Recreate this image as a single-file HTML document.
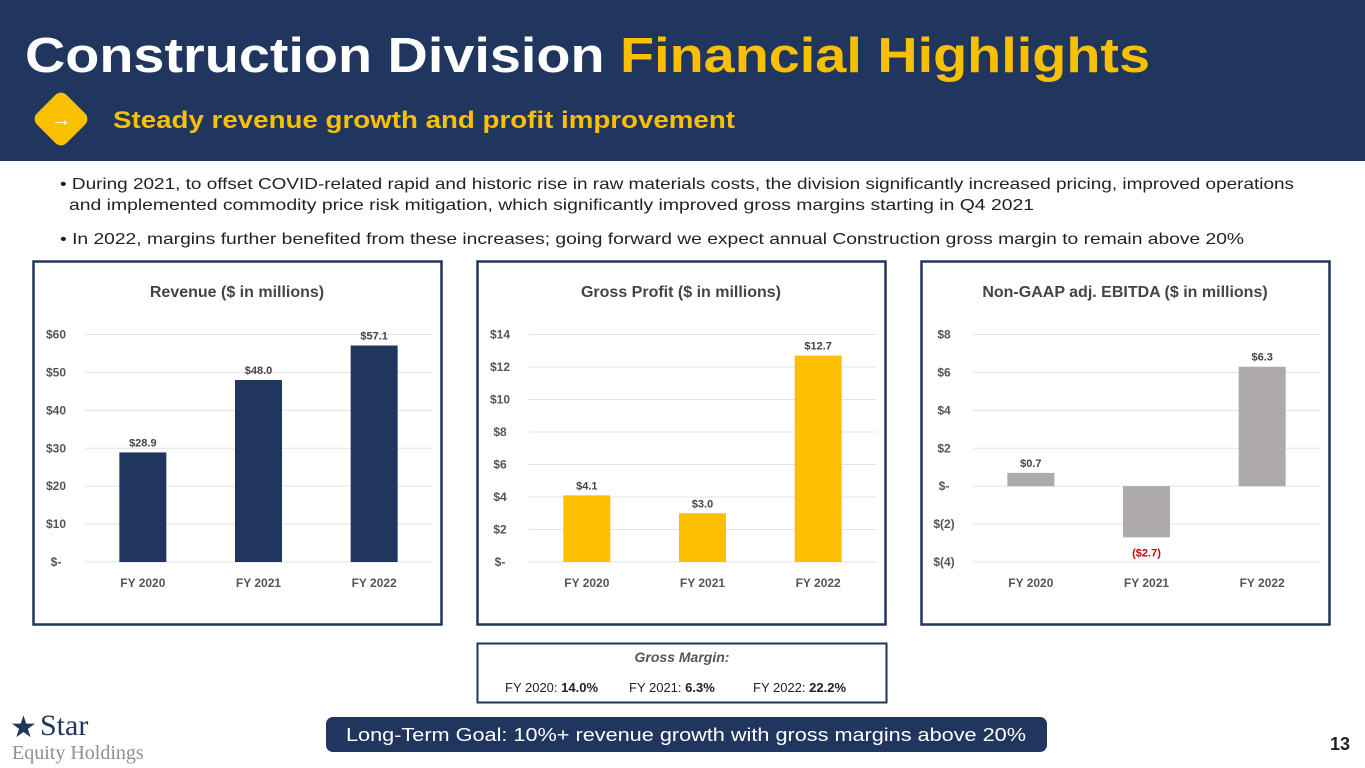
<!DOCTYPE html>
<html><head><meta charset="utf-8"><style>
html,body{margin:0;padding:0;background:#fff;}
svg{display:block;font-family:"Liberation Sans",sans-serif;}
</style></head><body>
<svg id="s" width="1365" height="768" viewBox="0 0 1365 768">
<rect x="0" y="0" width="1365" height="161" fill="#21365f"/>
<text x="25" y="72" font-size="49" font-weight="bold" fill="#fff" textLength="1125" lengthAdjust="spacingAndGlyphs">Construction Division <tspan fill="#f9c000">Financial Highlights</tspan></text>
<g>
<rect x="40" y="98" width="42" height="42" rx="8" fill="#f9c000" transform="rotate(45 61 119)"/>
<text x="61" y="126" font-size="20" fill="#fff" text-anchor="middle">→</text>
</g>
<text x="113" y="128" font-size="24" font-weight="bold" fill="#f9c000" textLength="622" lengthAdjust="spacingAndGlyphs">Steady revenue growth and profit improvement</text>
<g font-size="16" fill="#222">
<text x="60" y="189" textLength="1234" lengthAdjust="spacingAndGlyphs">• During 2021, to offset COVID-related rapid and historic rise in raw materials costs, the division significantly increased pricing, improved operations</text>
<text x="69" y="210" textLength="965" lengthAdjust="spacingAndGlyphs">and implemented commodity price risk mitigation, which significantly improved gross margins starting in Q4 2021</text>
<text x="60" y="244" textLength="1184" lengthAdjust="spacingAndGlyphs">• In 2022, margins further benefited from these increases; going forward we expect annual Construction gross margin to remain above 20%</text>
</g>
<g id="charts"></g>
<g>
<rect x="477.5" y="643.5" width="409" height="59" fill="#fff" stroke="#21365f" stroke-width="2"/>
<text x="682" y="662" font-size="14" font-weight="bold" font-style="italic" fill="#555" text-anchor="middle">Gross Margin:</text>
<text x="505" y="692" font-size="13" fill="#222">FY 2020: <tspan font-weight="bold">14.0%</tspan></text>
<text x="629" y="692" font-size="13" fill="#222">FY 2021: <tspan font-weight="bold">6.3%</tspan></text>
<text x="753" y="692" font-size="13" fill="#222">FY 2022: <tspan font-weight="bold">22.2%</tspan></text>
</g>
<g>
<rect x="326" y="717" width="721" height="35" rx="7" fill="#21365f"/>
<text x="686" y="741" font-size="18" fill="#fff" text-anchor="middle" textLength="680" lengthAdjust="spacingAndGlyphs">Long-Term Goal: 10%+ revenue growth with gross margins above 20%</text>
</g>
<g>
<text x="10" y="737" font-size="30" fill="#21365f" font-family="Liberation Serif,serif">★</text>
<text x="40" y="735" font-size="30" fill="#21365f" font-family="Liberation Serif,serif">Star</text>
<text x="12" y="759" font-size="20" fill="#8a8f99" font-family="Liberation Serif,serif">Equity Holdings</text>
</g>
<text x="1340" y="750" font-size="18" font-weight="bold" fill="#222" text-anchor="middle">13</text>
</svg>
<script>
const categories = ["FY 2020","FY 2021","FY 2022"];
const revenueValues = [28.9, 48.0, 57.1];
const revenueTicks = [0,10,20,30,40,50,60];
const grossProfitValues = [4.1, 3.0, 12.7];
const grossProfitTicks = [0,2,4,6,8,10,12,14];
const ebitdaValues = [0.7, -2.7, 6.3];
const ebitdaTicks = [-4,-2,0,2,4,6,8];

const NS="http://www.w3.org/2000/svg";
const root=document.getElementById('charts');
function mk(tag,attrs,parent){const e=document.createElementNS(NS,tag);for(const k in attrs)e.setAttribute(k,attrs[k]);parent.appendChild(e);return e;}
function tickLabel(v){ if(v===0) return "$-"; if(v<0) return "$("+(-v)+")"; return "$"+v; }
function valLabel(v){ return v<0 ? "($"+(-v).toFixed(1)+")" : "$"+v.toFixed(1); }

function chart(ox,title,values,ticks,color,name){
  const g=mk('g',{},root);
  
  
  const panel=mk('rect',{x:ox+1.5,y:261.5,width:408,height:363,fill:'#fff',stroke:'#21365f','stroke-width':2.5},g);
  
  
  const t=mk('text',{x:ox+205,y:297,'font-size':16,'font-weight':'bold',fill:'#444','text-anchor':'middle'},g);
  t.textContent=title;
  
  
  const tmin=ticks[0], tmax=ticks[ticks.length-1];
  const yTop=334.5, yBot=562;
  const y=v=>yBot-(v-tmin)/(tmax-tmin)*(yBot-yTop);
  const x0=ox+53, x1=ox+400, band=(x1-x0)/categories.length;
  const xc=i=>x0+band*(i+0.5);
  ticks.forEach(v=>{
    const l=mk('line',{x1:x0,x2:x1,y1:y(v),y2:y(v),stroke:'#e3e3e3','stroke-width':1},g);
    
    
    const tl=mk('text',{x:ox+24,y:y(v)+4,'font-size':12,'font-weight':'bold',fill:'#555','text-anchor':'middle'},g);
    tl.textContent=tickLabel(v);
    
    
  });
  values.forEach((v,i)=>{
    const top=Math.min(y(v),y(0)), h=Math.abs(y(v)-y(0));
    const b=mk('rect',{x:xc(i)-23.5,y:top,width:47,height:h,fill:color},g);
    
    
    const vl=mk('text',{x:xc(i),y:v<0?y(v)+19:y(v)-6,'font-size':11,'font-weight':'bold',fill:v<0?'#c00000':'#444','text-anchor':'middle'},g);
    vl.textContent=valLabel(v);
    
    
    const cl=mk('text',{x:xc(i),y:587,'font-size':12,'font-weight':'bold',fill:'#555','text-anchor':'middle'},g);
    cl.textContent=categories[i];
    
    
  });
}
chart(32,"Revenue  ($ in millions)",revenueValues,revenueTicks,'#21365f','revenue-chart');
chart(476,"Gross Profit  ($ in millions)",grossProfitValues,grossProfitTicks,'#fcc000','gross-profit-chart');
chart(920,"Non-GAAP adj. EBITDA ($ in millions)",ebitdaValues,ebitdaTicks,'#aeaaaa','ebitda-chart');
</script>
</body></html>
